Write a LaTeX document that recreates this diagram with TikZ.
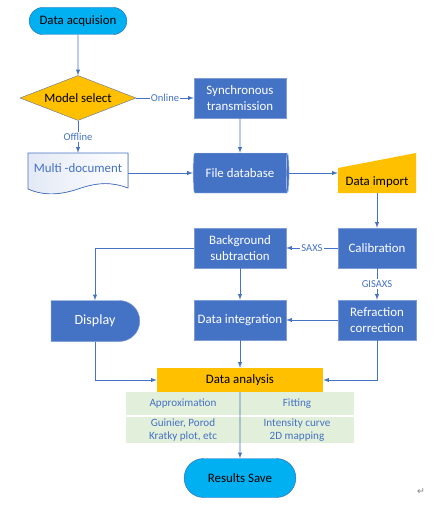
\documentclass[tikz,border=0pt]{standalone}
\usepackage{fontspec}
\setmainfont{Carlito}
\newfontfamily\markfont{DejaVu Sans}
\usetikzlibrary{shapes.geometric,shapes.misc}
\definecolor{boxblue}{HTML}{4472C4}
\definecolor{boxedge}{HTML}{7F9CD6}
\definecolor{gold}{HTML}{FFC000}
\definecolor{termcyan}{HTML}{00B0F0}
\definecolor{termedge}{HTML}{2F6DB5}
\definecolor{tabgreen}{HTML}{E2EFDA}
\definecolor{docshade}{HTML}{E3E9F5}

\begin{document}
\begin{tikzpicture}[x=0.03cm, y=-0.03cm, >=latex,
    font=\fontsize{11}{13}\selectfont,
    process/.style ={rectangle, fill=boxblue, draw=boxedge, text=white, align=center,
      minimum width=2.76cm, minimum height=1.2cm, inner sep=1pt},
    terminal/.style ={rounded rectangle, fill=termcyan, draw=termedge, inner sep=1pt},
    decision/.style ={diamond, aspect=2.6, fill=gold, draw=gray!70!boxblue,
      minimum width=3.48cm, minimum height=1.35cm, inner sep=0pt},
    database/.style ={cylinder, aspect=0.25, cylinder uses custom fill,
      cylinder body fill=boxblue, cylinder end fill=boxblue, draw=white!65!boxblue,
      text=white, minimum width=1.2cm, minimum height=2.88cm, inner sep=1pt},
    flow/.style ={draw=boxblue, line width=0.7pt, ->},
    tag/.style ={font=\fontsize{9}{10}\selectfont, text=boxblue, fill=white, inner sep=1pt},
    cell/.style ={font=\fontsize{9.5}{11}\selectfont, text=boxblue, align=center}]
   \useasboundingbox (0,0) rectangle (438,507);
   \fill[left color=docshade, right color=white] (28,153) -- (128,153) -- (128,188)
      .. controls (112,182) and (98,182) .. (78,189) .. controls (60,195) and (44,196) .. (28,189) -- cycle;
   \draw[boxblue, line width=0.6pt] (28,153) -- (128,153) -- (128,188)
      .. controls (112,182) and (98,182) .. (78,189) .. controls (60,195) and (44,196) .. (28,189) -- cycle;
   \fill[gold] (338,168) -- (416,153) -- (416,193) -- (338,193) -- cycle;
   \fill[tabgreen] (126,392) rectangle (354,443);
   \draw[white, line width=1pt] (126,416) -- (354,416);
   \node[terminal, minimum width=3cm, minimum height=0.81cm] (acq) at (78,21) {Data acquision};
   \node[decision] (sel) at (78,98) {Model select};
   \node[process] (sync) at (240,98) {Synchronous\\transmission};
   \node[text=boxblue, minimum width=3cm, minimum height=0.9cm] (mdoc) at (78,168) {Multi -document};
   \node[database] (db) at (240,173) {File database};
   \node[minimum width=2.34cm, minimum height=0.66cm, inner sep=0pt] (imp) at (377,182) {Data import};
   \node[process, minimum width=2.34cm] (cal) at (377,248) {Calibration};
   \node[process] (bg) at (240,248) {Background\\subtraction};
   \node[process, minimum width=2.34cm] (ref) at (377,320) {Refraction\\correction};
   \node[process] (integ) at (240,320) {Data integration};
   \node[process, rounded rectangle, rounded rectangle west arc=none, minimum width=2.73cm,
      minimum height=1.23cm, font=\fontsize{12}{14}\selectfont] (disp) at (95,321) {Display};
   \node[rectangle, fill=gold, minimum width=4.98cm, minimum height=0.72cm] (ana) at (240,380) {Data analysis};
   \node[cell] (apx) at (183,404) {Approximation};
   \node[cell] (fit) at (297,404) {Fitting};
   \node[cell] (guin) at (183,430) {Guinier, Porod\\Kratky plot, etc};
   \node[cell] (curve) at (297,430) {Intensity curve\\2D mapping};
   \node[terminal, minimum width=3.42cm, minimum height=1.17cm] (save) at (240,478) {Results Save};
   \node[text=gray, font=\fontsize{8}{9}\markfont] (pmark) at (421,492) {↵};
   \draw[flow] (acq) -- (sel);
   \draw[flow] (sel.east) -- node[tag] {Online} (sync.west);
   \draw[flow] (sel.south) -- node[tag] {Offline} (mdoc.north);
   \draw[flow] (sync) -- (db);
   \draw[flow] (mdoc.east |- db) -- (db.west);
   \draw[flow] (db.east) -- (db.east -| imp.west);
   \draw[flow] (imp.south) -- (cal.north);
   \draw[flow] (cal.west) -- node[tag] {SAXS} (bg.east);
   \draw[flow] (cal.south) -- node[tag] {GISAXS} (ref.north);
   \draw[flow] (bg.west) -| (disp.north);
   \draw[flow] (bg) -- (integ);
   \draw[flow] (ref.west) -- (integ.east);
   \draw[flow] (disp.south) |- (ana.west);
   \draw[flow] (ref.south) |- (ana.east);
   \draw[flow] (integ) -- (ana);
   \draw[flow] (ana) -- (save);
 \end{tikzpicture}
\end{document}
